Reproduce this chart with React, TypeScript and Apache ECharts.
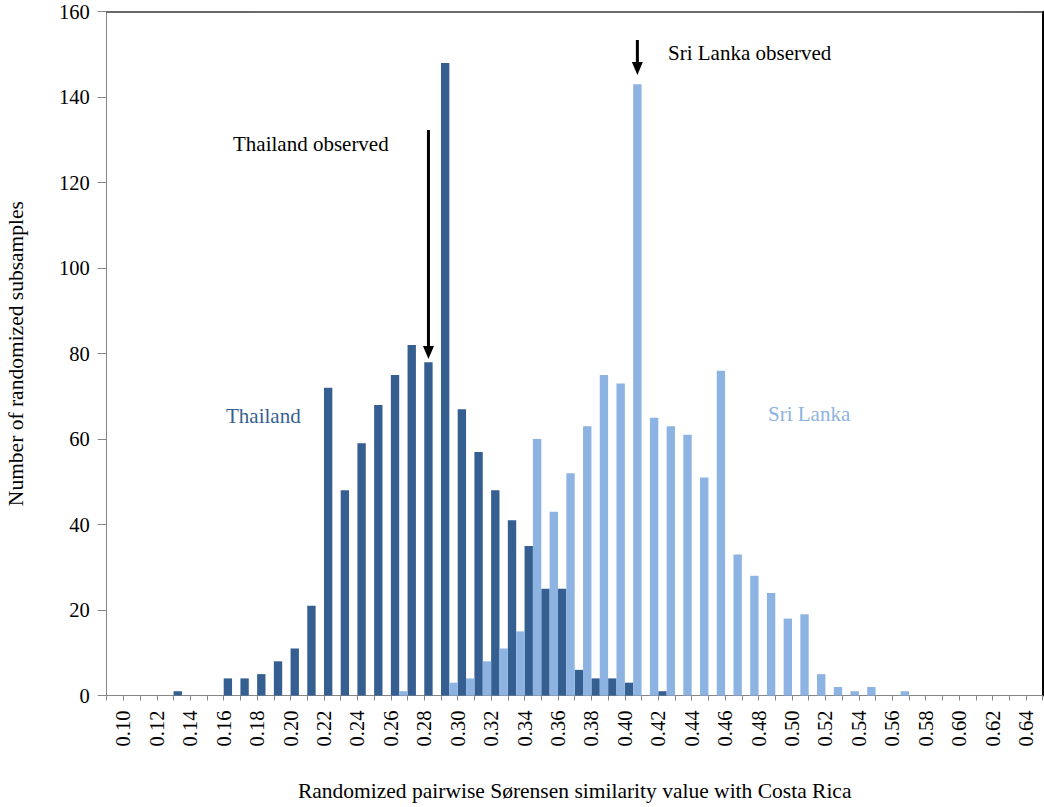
import React, { useEffect, useRef } from "react";
import * as echarts from "echarts";

// Histogram bins (lower edge of each 0.01-wide bin)
const bins = [
  "0.09", "0.10", "0.11", "0.12", "0.13", "0.14", "0.15", "0.16", "0.17", "0.18",
  "0.19", "0.20", "0.21", "0.22", "0.23", "0.24", "0.25", "0.26", "0.27", "0.28",
  "0.29", "0.30", "0.31", "0.32", "0.33", "0.34", "0.35", "0.36", "0.37", "0.38",
  "0.39", "0.40", "0.41", "0.42", "0.43", "0.44", "0.45", "0.46", "0.47", "0.48",
  "0.49", "0.50", "0.51", "0.52", "0.53", "0.54", "0.55", "0.56", "0.57", "0.58",
  "0.59", "0.60", "0.61", "0.62", "0.63", "0.64",
];

// Bin edges used as tick labels
const edges = [
  "0.09", "0.10", "0.11", "0.12", "0.13", "0.14", "0.15", "0.16", "0.17", "0.18",
  "0.19", "0.20", "0.21", "0.22", "0.23", "0.24", "0.25", "0.26", "0.27", "0.28",
  "0.29", "0.30", "0.31", "0.32", "0.33", "0.34", "0.35", "0.36", "0.37", "0.38",
  "0.39", "0.40", "0.41", "0.42", "0.43", "0.44", "0.45", "0.46", "0.47", "0.48",
  "0.49", "0.50", "0.51", "0.52", "0.53", "0.54", "0.55", "0.56", "0.57", "0.58",
  "0.59", "0.60", "0.61", "0.62", "0.63", "0.64", "0.65",
];

const thailand = [
  0, 0, 0, 0, 1, 0, 0, 4, 4, 5,
  8, 11, 21, 72, 48, 59, 68, 75, 82, 78,
  148, 67, 57, 48, 41, 35, 25, 25, 6, 4,
  4, 3, 0, 1, 0, 0, 0, 0, 0, 0,
  0, 0, 0, 0, 0, 0, 0, 0, 0, 0,
  0, 0, 0, 0, 0, 0,
];

const sriLanka = [
  0, 0, 0, 0, 0, 0, 0, 0, 0, 0,
  0, 0, 0, 0, 0, 0, 0, 1, 0, 0,
  3, 4, 8, 11, 15, 60, 43, 52, 63, 75,
  73, 143, 65, 63, 61, 51, 76, 33, 28, 24,
  18, 19, 5, 2, 1, 2, 0, 1, 0, 0,
  0, 0, 0, 0, 0, 0,
];

const thailandObservedBin = "0.28";
const sriLankaObservedBin = "0.40";

const DARK = "#365F91";
const LIGHT = "#8DB3E2";
const AXIS_GRAY = "#868686";
const FONT = "'Liberation Serif', 'Times New Roman', Times, serif";

const W = 1044;
const H = 807;
const GRID_LEFT = 106.7;
const GRID_RIGHT = 1.3;
const GRID_TOP = 11.7;
const GRID_BOTTOM = 111.5;

function arrow(x: number, yTop: number, yTip: number) {
  return [
    {
      type: "line",
      shape: { x1: x, y1: yTop, x2: x, y2: yTip - 10 },
      style: { stroke: "#000", lineWidth: 3 },
    },
    {
      type: "polygon",
      shape: {
        points: [
          [x - 5.5, yTip - 13],
          [x + 5.5, yTip - 13],
          [x, yTip],
        ],
      },
      style: { fill: "#000" },
    },
  ];
}

export default function App() {
  const ref = useRef<HTMLDivElement>(null);

  useEffect(() => {
    if (!ref.current) return;
    const chart = echarts.init(ref.current, undefined, { renderer: "svg" });

    const plotW = W - GRID_LEFT - GRID_RIGHT;
    const binW = plotW / bins.length;
    const thX = GRID_LEFT + (bins.indexOf(thailandObservedBin) + 0.25) * binW;
    const slX = GRID_LEFT + (bins.indexOf(sriLankaObservedBin) + 0.75) * binW;

    const tickStyle = { fontFamily: FONT, fontSize: 20.5, color: "#000" };
    const titleStyle = { fontFamily: FONT, fontSize: 21.5, color: "#000" };
    const annFont = `21px ${FONT}`;

    chart.setOption({
      animation: false,
      grid: {
        left: GRID_LEFT,
        right: GRID_RIGHT,
        top: GRID_TOP,
        bottom: GRID_BOTTOM,
        containLabel: false,
        outerBoundsMode: "none",
      },
      xAxis: [
        {
          type: "category",
          data: bins,
          boundaryGap: true,
          axisLine: { show: false },
          axisTick: { show: false },
          axisLabel: { show: false },
          splitLine: { show: false },
        },
        {
          type: "category",
          data: edges,
          boundaryGap: false,
          position: "bottom",
          axisLine: { show: true, onZero: false, lineStyle: { color: AXIS_GRAY, width: 1 } },
          axisTick: { show: true, interval: 0, length: 5, lineStyle: { color: AXIS_GRAY, width: 1 } },
          axisLabel: {
            interval: (i: number) => i % 2 === 1,
            rotate: 90,
            margin: 15,
            ...tickStyle,
          },
          splitLine: { show: false },
          name: "Randomized pairwise Sørensen similarity value with Costa Rica",
          nameLocation: "middle",
          nameGap: 84,
          nameTextStyle: { ...titleStyle },
        },
        {
          type: "category",
          data: bins,
          position: "top",
          axisLine: { show: true, onZero: false, lineStyle: { color: "#3a3a3a", width: 1.5 } },
          axisTick: { show: false },
          axisLabel: { show: false },
          splitLine: { show: false },
        },
      ],
      yAxis: [
        {
          type: "value",
          min: 0,
          max: 160,
          interval: 20,
          axisLine: { show: true, lineStyle: { color: AXIS_GRAY, width: 1 } },
          axisTick: { show: true, length: 9, lineStyle: { color: AXIS_GRAY, width: 1 } },
          axisLabel: { margin: 17, ...tickStyle },
          splitLine: { show: false },
          name: "Number of randomized subsamples",
          nameLocation: "middle",
          nameRotate: 90,
          nameGap: 80,
          nameTextStyle: { ...titleStyle },
        },
        {
          type: "value",
          min: 0,
          max: 160,
          interval: 20,
          position: "right",
          axisLine: { show: true, onZero: false, lineStyle: { color: "#000", width: 2 } },
          axisTick: { show: false },
          axisLabel: { show: false },
          splitLine: { show: false },
        },
      ],
      series: [
        {
          name: "Thailand",
          type: "bar",
          xAxisIndex: 0,
          yAxisIndex: 0,
          data: thailand,
          barGap: "0%",
          barCategoryGap: "0%",
          itemStyle: { color: DARK },
        },
        {
          name: "Sri Lanka",
          type: "bar",
          xAxisIndex: 0,
          yAxisIndex: 0,
          data: sriLanka,
          barGap: "0%",
          barCategoryGap: "0%",
          itemStyle: { color: LIGHT },
        },
      ],
      graphic: [
        ...arrow(thX, 130, 359),
        ...arrow(slX, 40, 75),
        {
          type: "text",
          x: 233,
          y: 144,
          style: { text: "Thailand observed", font: annFont, fill: "#000", align: "left", verticalAlign: "middle" },
        },
        {
          type: "text",
          x: 668,
          y: 53,
          style: { text: "Sri Lanka observed", font: annFont, fill: "#000", align: "left", verticalAlign: "middle" },
        },
        {
          type: "text",
          x: 226,
          y: 416,
          style: { text: "Thailand", font: annFont, fill: DARK, align: "left", verticalAlign: "middle" },
        },
        {
          type: "text",
          x: 768,
          y: 414,
          style: { text: "Sri Lanka", font: annFont, fill: LIGHT, align: "left", verticalAlign: "middle" },
        },
      ],
    });

    return () => {
      chart.dispose();
    };
  }, []);

  return (
    <div
      ref={ref}
      style={{ position: "fixed", left: 0, top: 0, width: W, height: H, background: "#fff" }}
    />
  );
}
